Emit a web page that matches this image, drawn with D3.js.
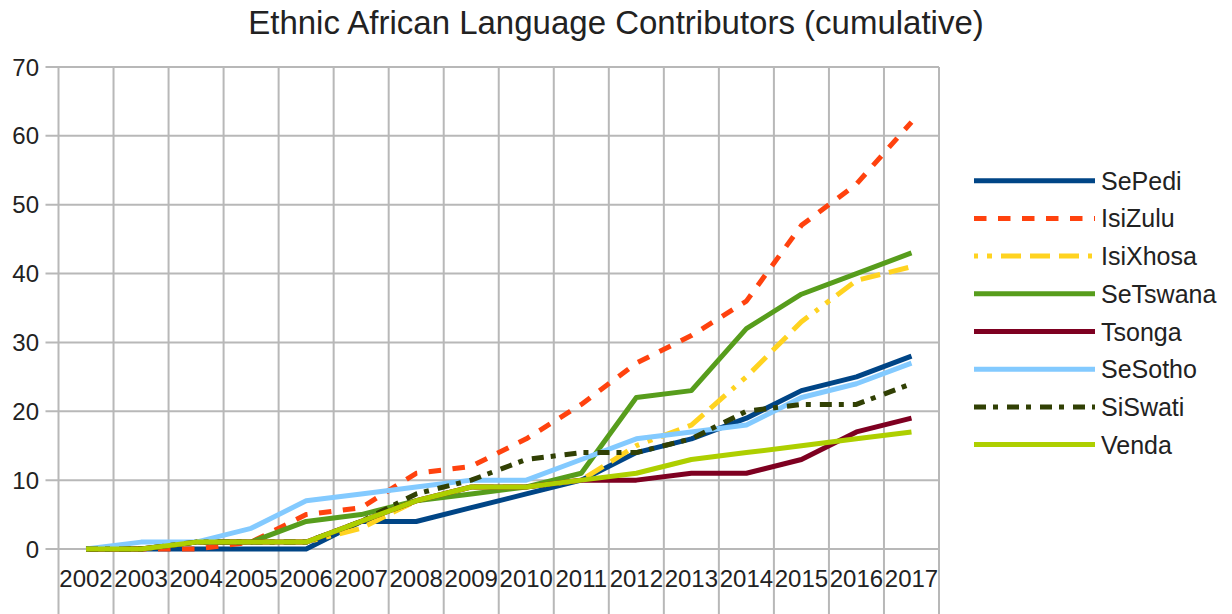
<!DOCTYPE html>
<html>
<head>
<meta charset="utf-8">
<script src="https://cdn.jsdelivr.net/npm/d3@7"></script>
<style>
  html, body { margin: 0; padding: 0; background: #fff; }
  svg { display: block; }
  text { font-family: "Liberation Sans", Arial, sans-serif; fill: #222; }
</style>
</head>
<body>
<svg id="chart" width="1232" height="614"></svg>
<script>
// Cumulative contributor counts per language, 2002–2017
const years = ["2002","2003","2004","2005","2006","2007","2008","2009","2010","2011","2012","2013","2014","2015","2016","2017"];
const yTicks = [0, 10, 20, 30, 40, 50, 60, 70];

const sePedi   = [0,0,0,0,0,4,4,6,8,10,14,16,19,23,25,28];
const isiZulu  = [0,0,0,1,5,6,11,12,16,21,27,31,36,47,53,62];
const isiXhosa = [0,0,1,1,1,3,7,9,9,10,15,18,25,33,39,41];
const seTswana = [0,0,1,1,4,5,7,8,9,11,22,23,32,37,40,43];
const tsonga   = [0,0,1,1,1,4,7,9,9,10,10,11,11,13,17,19];
const seSotho  = [0,1,1,3,7,8,9,10,10,13,16,17,18,22,24,27];
const siSwati  = [0,0,1,1,1,4,8,10,13,14,14,16,20,21,21,24];
const venda    = [0,0,1,1,1,4,7,9,9,10,11,13,14,15,16,17];

const seriesNames = ["SePedi","IsiZulu","IsiXhosa","SeTswana","Tsonga","SeSotho","SiSwati","Venda"];
const seriesValues = [sePedi, isiZulu, isiXhosa, seTswana, tsonga, seSotho, siSwati, venda];
const colors = ["#004586","#ff420e","#ffd320","#579d1c","#7e0021","#83caff","#314004","#aecf00"];
const dashes = [null, "12.5,11.5", "4,9,5,9,20,9,20,9,20,9", null, null, null, "12,7,5,9", null];

const svg = d3.select("#chart");
const plotLeft = 58.5, plotRight = 939, plotTop = 67, plotBottom = 549;

const x = d3.scaleBand().domain(years).range([plotLeft, plotRight]);
const y = d3.scaleLinear().domain([0, 70]).range([plotBottom, plotTop]);

// Title
svg.append("text")
  .attr("x", 616).attr("y", 34)
  .attr("text-anchor", "middle")
  .style("font-size", "33px")
  .text("Ethnic African Language Contributors (cumulative)");

// Horizontal grid lines with outer ticks
const grid = svg.append("g");
grid.selectAll("line.h").data(yTicks).enter().append("line")
  .attr("x1", plotLeft - 13).attr("x2", plotRight)
  .attr("y1", d => y(d)).attr("y2", d => y(d))
  .attr("stroke", "#b8b8b8").attr("stroke-width", 2);

// Vertical grid lines at category boundaries, running past the labels
const bounds = years.map(d => x(d)).concat([plotRight]);
grid.selectAll("line.v").data(bounds).enter().append("line")
  .attr("x1", d => d).attr("x2", d => d)
  .attr("y1", plotTop).attr("y2", 614)
  .attr("stroke", "#b8b8b8").attr("stroke-width", 2);

// Y axis labels
svg.append("g").selectAll("text").data(yTicks).enter().append("text")
  .attr("x", 39).attr("y", d => y(d) + 8.5)
  .attr("text-anchor", "end")
  .style("font-size", "24px")
  .text(d => d);

// X axis labels
svg.append("g").selectAll("text").data(years).enter().append("text")
  .attr("x", d => x(d) + x.bandwidth() / 2).attr("y", 587)
  .attr("text-anchor", "middle")
  .style("font-size", "24px")
  .text(d => d);

// Series lines
const line = d3.line()
  .x((d, i) => x(years[i]) + x.bandwidth() / 2)
  .y(d => y(d));

const lines = svg.append("g");
seriesValues.forEach((vals, i) => {
  lines.append("path")
    .attr("d", line(vals))
    .attr("fill", "none")
    .attr("stroke", colors[i])
    .attr("stroke-width", 5)
    .attr("stroke-linejoin", "round")
    .attr("stroke-dasharray", dashes[i]);
});

// Legend
const legend = svg.append("g");
seriesNames.forEach((name, i) => {
  const ly = 180.7 + i * 37.7;
  legend.append("line")
    .attr("x1", 974).attr("x2", 1095)
    .attr("y1", ly).attr("y2", ly)
    .attr("stroke", colors[i]).attr("stroke-width", 5)
    .attr("stroke-dasharray", dashes[i]);
  legend.append("text")
    .attr("x", 1101).attr("y", ly + 9)
    .style("font-size", "25px")
    .text(name);
});
</script>
</body>
</html>
